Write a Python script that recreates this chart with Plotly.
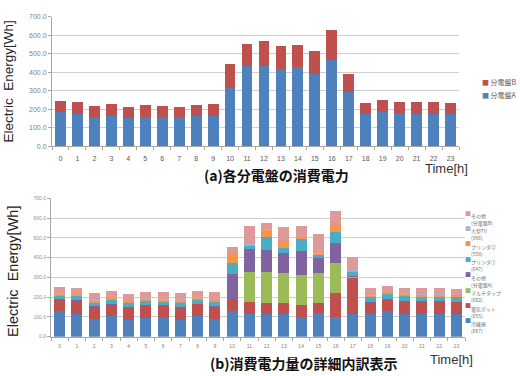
import plotly.graph_objects as go

hours = [str(h) for h in range(24)]

# (a) panel board consumption [Wh]
panel_a = [188,175,153,163,153,160,153,153,163,163,316,435,433,416,426,389,465,296,172,188,179,175,174,172]
panel_b = [58,65,63,63,61,63,63,61,62,63,131,118,137,128,123,125,161,95,61,61,61,63,63,61]

# (b) detailed breakdown [Wh]
fridge   = [128,116,90,103,86,95,95,86,103,90,128,116,116,116,100,116,100,116,116,128,116,116,116,116]
pot      = [58,66,60,60,60,64,60,62,61,55,61,61,56,56,58,56,122,181,56,58,61,61,61,58]
multitap = [0,0,0,0,0,0,0,0,0,0,0,150,153,151,152,151,151,5,0,0,0,0,0,0]
other_a  = [3,3,3,3,3,3,3,3,3,8,129,116,113,98,121,73,100,3,3,3,3,3,3,3]
printer1 = [20,22,20,20,22,20,20,21,19,22,53,16,66,30,62,17,56,21,25,25,25,22,22,23]
printer2 = [8,8,10,10,9,10,10,10,11,10,47,8,38,33,11,8,35,9,9,11,12,12,12,10]
big_tv   = [2]*24
other_b  = [34,30,35,34,36,33,34,38,33,40,34,90,31,68,53,98,71,68,33,30,28,28,29,28]

top_names = ["分電盤A", "分電盤B"]
top_vals = [panel_a, panel_b]
top_colors = ["#4F81BD", "#C0504D"]

bot_names = ["冷蔵庫<br>(667)", "電気ポット<br>(655)", "マルチタップ<br>(602)", "その他<br>(分電盤A)",
             "プリンタ①<br>(647)", "プリンタ②<br>(558)", "大型TV<br>(906)", "その他<br>(分電盤B)"]
bot_vals = [fridge, pot, multitap, other_a, printer1, printer2, big_tv, other_b]
bot_colors = ["#4F81BD", "#C0504D", "#9BBB59", "#8064A2", "#4BACC6", "#F79646", "#A9B8DA", "#DE9A98"]

FONT = "Liberation Sans, Arial, Noto Sans CJK JP"
JFONT = "Noto Sans CJK JP, Liberation Sans"

fig = go.Figure()
for n, v, c in zip(top_names, top_vals, top_colors):
    fig.add_trace(go.Bar(x=hours, y=v, name=n, marker_color=c, marker_line_width=0,
                         xaxis="x", yaxis="y", showlegend=False))
for n, v, c in zip(bot_names, bot_vals, bot_colors):
    fig.add_trace(go.Bar(x=hours, y=v, name=n.replace("<br>", ""), marker_color=c, marker_line_width=0,
                         xaxis="x2", yaxis="y2", showlegend=False))

W, H = 520, 376
def px(x): return x / W
def py(y): return 1 - y / H

axis_common = dict(showline=True, linecolor="#A6A6A6", ticks="outside", ticklen=3,
                   tickcolor="#A6A6A6", zeroline=False, fixedrange=True)

fig.update_layout(
    width=W, height=H, margin=dict(l=0, r=0, t=0, b=0),
    paper_bgcolor="white", plot_bgcolor="white",
    barmode="stack", bargap=0.36,
    font=dict(family=FONT, color="#595959"),
    xaxis=dict(domain=[px(52), px(459)], anchor="y", tickson="boundaries", showgrid=False,
               ticklabelstandoff=5, tickfont=dict(size=7, color="#595959"), **axis_common),
    yaxis=dict(domain=[py(145), py(13)], anchor="x", range=[0, 700], dtick=100,
               tickformat=".1f", showgrid=True, gridcolor="#CFCFCF",
               tickfont=dict(size=7, color="#7F7F7F"), **axis_common),
    xaxis2=dict(domain=[px(51), px(465)], anchor="y2", tickson="boundaries", showgrid=False,
                ticklabelstandoff=4, tickfont=dict(size=5, color="#7F7F7F"), **axis_common),
    yaxis2=dict(domain=[py(339), py(198)], anchor="x2", range=[0, 700], dtick=100,
                tickformat=".1f", showgrid=True, gridcolor="#CFCFCF",
                tickfont=dict(size=5, color="#8F8F8F"), **axis_common),
)

def A(text, x, y, size, color, family, angle=0, xa="center", ya="middle", align="center"):
    return dict(text=text, x=px(x), y=py(y), xref="paper", yref="paper", textangle=angle,
                xanchor=xa, yanchor=ya, align=align, showarrow=False,
                font=dict(size=size, color=color, family=family))

ann = []
ann.append(A("Electric&nbsp;&nbsp;Energy[Wh]", 9, 79, 13.5, "#222", FONT, angle=-90))
ann.append(A("Electric&nbsp;&nbsp;Energy[Wh]", 13, 273, 14.5, "#222", FONT, angle=-90))
ann.append(A("Time[h]", 446, 168, 13, "#333", FONT))
ann.append(A("Time[h]", 451, 362, 13, "#333", FONT))
ann.append(A("<b>(a)各分電盤の消費電力</b>", 276, 174, 14, "#111", JFONT))
ann.append(A("<b>(b)消費電力量の詳細内訳表示</b>", 304, 366, 14, "#111", JFONT))

# legend (a): B above A
for i, (n, c) in enumerate(zip(top_names[::-1], top_colors[::-1])):
    yy = 79 + i * 14
    ann.append(A(f"<span style='color:{c}'>■</span> {n}", 480, yy, 7, "#595959", JFONT, xa="left"))

# legend (b): reversed order
for i, (n, c) in enumerate(zip(bot_names[::-1], bot_colors[::-1])):
    yy = 213 + i * 15.7
    ann.append(A(f"<span style='color:{c}'>■</span>", 463, yy, 6, c, JFONT, xa="left"))
    ann.append(A(n, 469, yy - 3, 5, "#6F6F6F", JFONT, xa="left", ya="top", align="left"))

fig.update_layout(annotations=ann)
fig.write_html("out.html")
